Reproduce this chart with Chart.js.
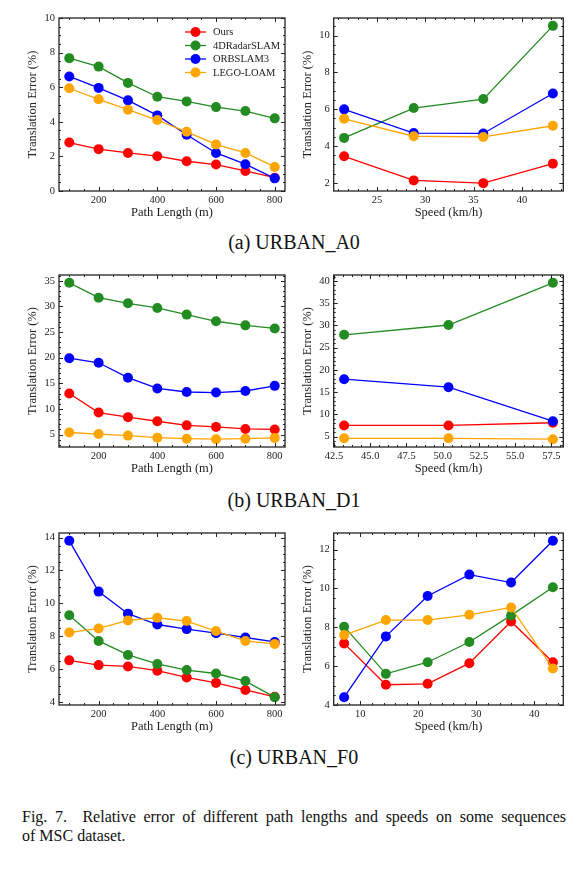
<!DOCTYPE html>
<html>
<head>
<meta charset="utf-8">
<script src="https://cdn.jsdelivr.net/npm/chart.js@4.4.1/dist/chart.umd.min.js"></script>
<style>
  html, body { margin: 0; padding: 0; background: #fff; }
  body { width: 579px; height: 873px; position: relative; overflow: hidden;
    font-family: "Liberation Serif", "Times New Roman", serif; color: #111; }
  .panel { position: absolute; }
  .sub { position: absolute; left: 0; width: 588px; text-align: center; font-size: 20px; line-height: 22px; }
  .caption { position: absolute; left: 22px; width: 544px; top: 807px; font-size: 16px; line-height: 19px; }
  .caption .l1 { text-align: justify; text-align-last: justify; }
</style>
</head>
<body>
<div class="panel" style="left:0;top:0;width:290px;height:225px"><canvas id="a0Len"></canvas></div>
<div class="panel" style="left:290px;top:0;width:289px;height:225px"><canvas id="a0Spd"></canvas></div>
<div class="sub" style="top:231px">(a) URBAN_A0</div>
<div class="panel" style="left:0;top:255px;width:290px;height:226px"><canvas id="d1Len"></canvas></div>
<div class="panel" style="left:290px;top:255px;width:289px;height:226px"><canvas id="d1Spd"></canvas></div>
<div class="sub" style="top:489px">(b) URBAN_D1</div>
<div class="panel" style="left:0;top:515px;width:290px;height:224px"><canvas id="f0Len"></canvas></div>
<div class="panel" style="left:290px;top:515px;width:289px;height:224px"><canvas id="f0Spd"></canvas></div>
<div class="sub" style="top:746px">(c) URBAN_F0</div>
<div class="caption">
  <div class="l1">Fig. 7.&nbsp;&nbsp;Relative error of different path lengths and speeds on some sequences</div>
  <div>of MSC dataset.</div>
</div>

<script>
"use strict";

const lengths = [100, 200, 300, 400, 500, 600, 700, 800];
const speedsA0 = [21.6, 28.8, 36.0, 43.2];
const speedsD1 = [43.2, 50.4, 57.6];
const speedsF0 = [7.2, 14.4, 21.6, 28.8, 36.0, 43.2];
const methods = ["Ours", "4DRadarSLAM", "ORBSLAM3", "LEGO-LOAM"];
const colors = ["#ff0000", "#228b22", "#0000ff", "#ffa500"];

// URBAN_A0
const a0LenOurs = [2.80, 2.42, 2.20, 2.01, 1.72, 1.53, 1.16, 0.77];
const a0Len4d   = [7.68, 7.19, 6.25, 5.45, 5.18, 4.85, 4.62, 4.20];
const a0LenOrb  = [6.62, 5.96, 5.24, 4.37, 3.25, 2.20, 1.55, 0.73];
const a0LenLego = [5.94, 5.30, 4.70, 4.10, 3.42, 2.69, 2.20, 1.39];
const a0SpdOurs = [3.44, 2.13, 1.98, 3.04];
const a0Spd4d   = [4.44, 6.06, 6.55, 10.53];
const a0SpdOrb  = [5.99, 4.70, 4.68, 6.85];
const a0SpdLego = [5.48, 4.53, 4.49, 5.10];

// URBAN_D1
const d1LenOurs = [13.0, 9.3, 8.4, 7.6, 6.8, 6.5, 6.1, 6.0];
const d1Len4d   = [34.6, 31.7, 30.6, 29.7, 28.4, 27.1, 26.3, 25.7];
const d1LenOrb  = [19.9, 19.0, 16.1, 14.0, 13.3, 13.2, 13.5, 14.5];
const d1LenLego = [5.4, 5.1, 4.8, 4.4, 4.2, 4.1, 4.2, 4.35];
const d1SpdOurs = [7.5, 7.5, 8.1];
const d1Spd4d   = [27.9, 30.1, 39.6];
const d1SpdOrb  = [17.9, 16.1, 8.45];
const d1SpdLego = [4.6, 4.6, 4.4];

// URBAN_F0
const f0LenOurs = [6.53, 6.24, 6.16, 5.90, 5.49, 5.16, 4.73, 4.31];
const f0Len4d   = [9.27, 7.71, 6.86, 6.31, 5.94, 5.73, 5.27, 4.29];
const f0LenOrb  = [13.8, 10.71, 9.37, 8.71, 8.43, 8.18, 7.92, 7.65];
const f0LenLego = [8.22, 8.47, 8.96, 9.12, 8.92, 8.31, 7.71, 7.53];
const f0SpdOurs = [7.17, 5.04, 5.09, 6.15, 8.30, 6.20];
const f0Spd4d   = [8.03, 5.60, 6.20, 7.24, 8.61, 10.06];
const f0SpdOrb  = [4.40, 7.53, 9.61, 10.71, 10.30, 12.45];
const f0SpdLego = [7.60, 8.37, 8.37, 8.64, 9.02, 5.88];

const FONT = "'Liberation Serif', 'Times New Roman', serif";
const INK = "#222";
Chart.defaults.font.family = FONT;
Chart.defaults.color = INK;

function series(xs, ys) { return xs.map((x, i) => ({ x, y: ys[i] })); }

// matplotlib-style autoscale: 5% margin on each side
function pad(...lists) {
  const all = [].concat(...lists);
  const lo = Math.min(...all), hi = Math.max(...all), m = (hi - lo) * 0.05;
  return [lo - m, hi + m];
}

// every multiple of step/ndiv that falls inside the scale
function stepsIn(scale, step, ndiv) {
  const ms = step / ndiv, out = [];
  for (let k = Math.ceil(scale.min / ms - 1e-9); k * ms <= scale.max + 1e-9; k++) out.push(+(k * ms).toFixed(6));
  return out;
}

function onStep(step) {
  return (s) => { s.ticks = stepsIn(s, step, 1).map(value => ({ value })); };
}

// box frame with inward ticks on all four sides
const frame = {
  id: "frame",
  afterDraw(chart, args, o) {
    const { ctx, chartArea: a, scales } = chart;
    ctx.save();
    ctx.strokeStyle = INK;
    ctx.lineWidth = 1;
    const mark = (scale, vals, len) => {
      vals.forEach(v => {
        const p = Math.round(scale.getPixelForValue(v)) + 0.5;
        ctx.beginPath();
        if (scale.isHorizontal()) {
          ctx.moveTo(p, a.bottom); ctx.lineTo(p, a.bottom - len);
          ctx.moveTo(p, a.top); ctx.lineTo(p, a.top + len);
        } else {
          ctx.moveTo(a.left, p); ctx.lineTo(a.left + len, p);
          ctx.moveTo(a.right, p); ctx.lineTo(a.right - len, p);
        }
        ctx.stroke();
      });
    };
    mark(scales.x, stepsIn(scales.x, o.xStep, o.xDiv), 2);
    mark(scales.y, stepsIn(scales.y, o.yStep, o.yDiv), 2);
    mark(scales.x, scales.x.ticks.map(t => t.value), 4);
    mark(scales.y, scales.y.ticks.map(t => t.value), 4);
    ctx.lineWidth = 1.3;
    ctx.strokeRect(a.left, a.top, a.right - a.left, a.bottom - a.top);

    if (o.legend) {
      ctx.font = "10.5px " + FONT;
      ctx.textBaseline = "middle";
      chart.data.datasets.forEach((d, i) => {
        const x0 = a.right - 100, y = a.top + 14 + i * 13.5;
        ctx.strokeStyle = d.borderColor;
        ctx.lineWidth = 1.3;
        ctx.beginPath(); ctx.moveTo(x0, y); ctx.lineTo(x0 + 21, y); ctx.stroke();
        ctx.fillStyle = d.backgroundColor;
        ctx.beginPath(); ctx.arc(x0 + 10.5, y, 5, 0, Math.PI * 2); ctx.fill();
        ctx.fillStyle = INK;
        ctx.fillText(d.label, x0 + 28, y + 0.5);
      });
    }
    ctx.restore();
  },
};

function makeChart(id, opt) {
  const datasets = opt.ys.map((ys, i) => ({
    label: methods[i], data: series(opt.xs, ys),
    borderColor: colors[i], backgroundColor: colors[i],
    borderWidth: 1.3, pointRadius: 5, pointBorderWidth: 0, order: 3 - i,
  }));
  const right = opt.side === "right";
  new Chart(document.getElementById(id), {
    type: "line",
    data: { datasets },
    plugins: [frame],
    options: {
      responsive: true, maintainAspectRatio: false, animation: false,
      layout: { padding: { left: right ? 6.5 : 21.5, right: right ? 15.7 : 3, top: opt.top, bottom: 0 } },
      plugins: {
        legend: { display: false }, tooltip: { enabled: false },
        frame: { xStep: opt.xStep, xDiv: opt.xDiv, yStep: opt.yStep, yDiv: opt.yDiv, legend: !!opt.legend },
      },
      scales: {
        x: {
          type: "linear", min: opt.xRange[0], max: opt.xRange[1],
          grid: { display: false, drawTicks: false }, border: { display: false },
          ticks: { autoSkip: false, maxRotation: 0, padding: 3,
            font: { size: 10.5 }, callback: v => Number(v).toFixed(opt.xDigits || 0) },
          afterBuildTicks: onStep(opt.xStep),
          afterFit: s => { s.height = 34; },
          title: { display: true, text: opt.xTitle, font: { size: 12.5 }, padding: { top: 0, bottom: 5 } },
        },
        y: {
          min: opt.yRange[0], max: opt.yRange[1],
          grid: { display: false, drawTicks: false }, border: { display: false },
          ticks: { autoSkip: false, padding: 4,
            font: { size: 10.5 }, callback: v => Number(v).toFixed(0) },
          afterBuildTicks: onStep(opt.yStep),
          afterFit: s => { s.width = right ? 37.2 : 37.5; },
          title: { display: true, text: "Translation Error (%)", font: { size: 12.5 }, padding: { top: 4, bottom: 4 } },
        },
      },
    },
  });
}

const LEN = "Path Length (m)", SPD = "Speed (km/h)";

makeChart("a0Len", { side: "left", top: 18, xs: lengths,
  ys: [a0LenOurs, a0Len4d, a0LenOrb, a0LenLego], legend: true,
  xRange: pad(lengths), xStep: 200, xDiv: 4, yRange: [0, 10], yStep: 2, yDiv: 4, xTitle: LEN });
makeChart("a0Spd", { side: "right", top: 18, xs: speedsA0,
  ys: [a0SpdOurs, a0Spd4d, a0SpdOrb, a0SpdLego],
  xRange: pad(speedsA0), xStep: 5, xDiv: 5,
  yRange: pad(a0SpdOurs, a0Spd4d, a0SpdOrb, a0SpdLego), yStep: 2, yDiv: 4, xTitle: SPD });

makeChart("d1Len", { side: "left", top: 20, xs: lengths,
  ys: [d1LenOurs, d1Len4d, d1LenOrb, d1LenLego],
  xRange: pad(lengths), xStep: 200, xDiv: 4,
  yRange: pad(d1LenOurs, d1Len4d, d1LenOrb, d1LenLego), yStep: 5, yDiv: 5, xTitle: LEN });
makeChart("d1Spd", { side: "right", top: 20, xs: speedsD1,
  ys: [d1SpdOurs, d1Spd4d, d1SpdOrb, d1SpdLego],
  xRange: pad(speedsD1), xStep: 2.5, xDiv: 4, xDigits: 1,
  yRange: pad(d1SpdOurs, d1Spd4d, d1SpdOrb, d1SpdLego), yStep: 5, yDiv: 5, xTitle: SPD });

makeChart("f0Len", { side: "left", top: 18, xs: lengths,
  ys: [f0LenOurs, f0Len4d, f0LenOrb, f0LenLego],
  xRange: pad(lengths), xStep: 200, xDiv: 4,
  yRange: pad(f0LenOurs, f0Len4d, f0LenOrb, f0LenLego), yStep: 2, yDiv: 4, xTitle: LEN });
makeChart("f0Spd", { side: "right", top: 18, xs: speedsF0,
  ys: [f0SpdOurs, f0Spd4d, f0SpdOrb, f0SpdLego],
  xRange: pad(speedsF0), xStep: 10, xDiv: 5,
  yRange: pad(f0SpdOurs, f0Spd4d, f0SpdOrb, f0SpdLego), yStep: 2, yDiv: 4, xTitle: SPD });
</script>
</body>
</html>
